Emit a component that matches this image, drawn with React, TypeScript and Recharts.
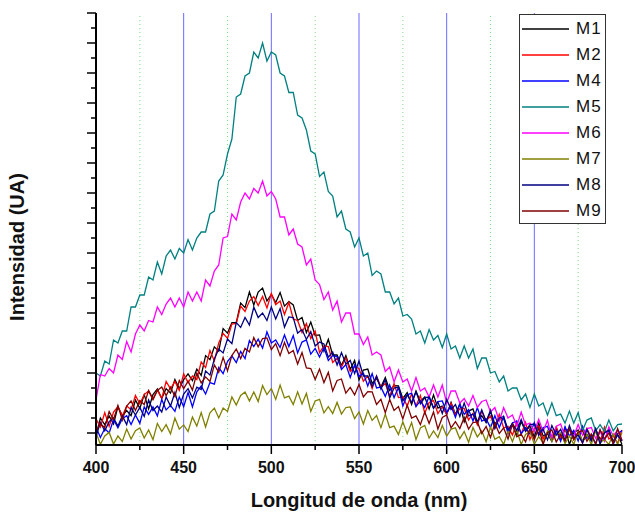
import { LineChart, Line, XAxis, YAxis, ReferenceLine } from "recharts";

// wavelength in nm, one reading every 2.5 nm
const wavelengths = [
  400, 402.5, 405, 407.5, 410, 412.5, 415, 417.5, 420, 422.5, 425, 427.5, 430, 432.5, 435, 437.5, 440, 442.5, 445, 447.5,
  450, 452.5, 455, 457.5, 460, 462.5, 465, 467.5, 470, 472.5, 475, 477.5, 480, 482.5, 485, 487.5, 490, 492.5, 495, 497.5,
  500, 502.5, 505, 507.5, 510, 512.5, 515, 517.5, 520, 522.5, 525, 527.5, 530, 532.5, 535, 537.5, 540, 542.5, 545, 547.5,
  550, 552.5, 555, 557.5, 560, 562.5, 565, 567.5, 570, 572.5, 575, 577.5, 580, 582.5, 585, 587.5, 590, 592.5, 595, 597.5,
  600, 602.5, 605, 607.5, 610, 612.5, 615, 617.5, 620, 622.5, 625, 627.5, 630, 632.5, 635, 637.5, 640, 642.5, 645, 647.5,
  650, 652.5, 655, 657.5, 660, 662.5, 665, 667.5, 670, 672.5, 675, 677.5, 680, 682.5, 685, 687.5, 690, 692.5, 695, 697.5,
  700,
];

const m1 = [
  -0.08, 0.5, 0.28, 0.57, 0.3, 0.88, 0.57, 0.75, 0.58, 1.1, 0.82, 1.28, 0.8, 1.28, 1.47, 1.15, 1.48, 1.33, 1.78, 1.48,
  1.78, 1.97, 1.75, 2.13, 1.92, 2.58, 2.45, 2.87, 2.73, 3.48, 3.33, 3.68, 3.68, 4.33, 4.18, 4.7, 4.27, 4.7, 4.83, 4.4,
  4.62, 4.35, 4.68, 4.23, 4.38, 4.27, 3.75, 3.85, 3.35, 3.7, 3.25, 3.27, 2.73, 3.12, 2.6, 2.6, 2.25, 2.58, 2.12, 2.42,
  1.77, 2.1, 2.13, 1.65, 1.82, 1.53, 1.85, 1.42, 1.58, 1.57, 1.15, 1.35, 0.95, 1.4, 1.05, 1.2, 0.8, 1.27, 0.83, 0.9,
  0.62, 1.02, 0.62, 0.97, 0.37, 0.73, 0.8, 0.37, 0.58, 0.35, 0.72, 0.3, 0.48, 0.48, 0.08, 0.3, -0.08, 0.38, 0.05, 0.23,
  -0.13, 0.33, -0.1, -0.02, -0.28, 0.15, -0.22, 0.18, -0.38, 0.01, 0.1, -0.3, -0.05, -0.26, 0.13, -0.22, 0.02, 0.07, -0.28, -0.03,
  -0.38,
];
const m2 = [
  0.47, 0.2, 0.68, 0.22, 0.7, 0.88, 0.57, 0.9, 0.78, 1.25, 0.97, 1.28, 1.4, 1.12, 1.43, 1.15, 1.72, 1.47, 1.72, 1.42,
  1.97, 1.68, 1.9, 1.78, 2.37, 2.18, 2.75, 2.4, 3.0, 3.32, 3.15, 3.63, 3.65, 4.23, 4.05, 4.4, 4.55, 4.25, 4.55, 4.17,
  4.65, 4.28, 4.4, 3.95, 4.35, 3.8, 3.75, 3.35, 3.65, 3.15, 3.4, 2.68, 2.9, 2.88, 2.35, 2.5, 2.2, 2.5, 2.05, 2.2,
  2.15, 1.73, 1.9, 1.48, 1.9, 1.53, 1.65, 1.23, 1.65, 1.18, 1.2, 0.9, 1.3, 0.9, 1.25, 0.66, 1.02, 1.08, 0.65, 0.87,
  0.63, 0.99, 0.6, 0.81, 0.82, 0.43, 0.65, 0.27, 0.73, 0.4, 0.57, 0.17, 0.62, 0.17, 0.22, -0.07, 0.35, -0.03, 0.35, -0.22,
  0.15, 0.23, -0.2, 0.03, -0.18, 0.21, -0.15, 0.09, 0.13, -0.23, 0.02, -0.34, 0.15, -0.15, 0.05, -0.3, 0.2, -0.2, -0.1, -0.35,
  0.1,
];
const m4 = [
  0.2, -0.15, 0.15, 0.0, 0.45, 0.17, 0.48, 0.58, 0.28, 0.6, 0.32, 0.87, 0.62, 0.87, 0.57, 1.12, 0.77, 0.92, 0.72, 1.2,
  0.88, 1.35, 0.87, 1.37, 1.57, 1.3, 1.68, 1.63, 2.18, 1.98, 2.38, 2.57, 2.35, 2.72, 2.48, 3.08, 2.88, 3.13, 2.83, 3.37,
  3.0, 3.1, 2.85, 3.27, 2.88, 3.25, 2.67, 3.03, 3.1, 2.63, 2.82, 2.53, 2.85, 2.42, 2.58, 2.55, 2.12, 2.28, 1.85, 2.27,
  1.88, 2.0, 1.57, 1.98, 1.5, 1.53, 1.22, 1.6, 1.18, 1.52, 0.9, 1.27, 1.33, 0.88, 1.08, 0.85, 1.22, 0.83, 1.05, 1.07,
  0.68, 0.9, 0.52, 0.97, 0.62, 0.78, 0.4, 0.85, 0.4, 0.47, 0.18, 0.58, 0.18, 0.55, -0.03, 0.33, 0.4, -0.03, 0.18, -0.03,
  0.35, -0.03, 0.18, 0.22, -0.15, 0.08, -0.28, 0.21, -0.1, 0.09, -0.27, 0.22, -0.18, -0.09, -0.35, 0.1, -0.25, 0.14, -0.38, -0.02,
  0.08,
];
const m5 = [
  2.0, 1.9, 2.4, 2.3, 3.1, 3.0, 3.4, 3.4, 4.2, 4.2, 4.6, 4.6, 5.2, 5.1, 5.7, 5.3, 5.9, 6.1, 5.8, 6.15,
  6.0, 6.45, 6.1, 6.5, 6.7, 6.7, 7.3, 7.4, 8.4, 8.6, 9.3, 9.8, 11.2, 11.3, 11.9, 12.0, 12.7, 12.5, 13.0, 12.4,
  12.7, 12.6, 12.0, 11.9, 11.35, 11.35, 10.6, 10.5, 10.1, 9.4, 9.3, 8.55, 8.7, 8.05, 7.9, 7.2, 7.4, 6.8, 6.7, 6.2,
  6.5, 5.9, 6.0, 5.25, 5.4, 5.3, 4.7, 4.7, 4.3, 4.5, 3.9, 3.95, 3.8, 3.3, 3.4, 3.0, 3.45, 3.1, 3.25, 2.85,
  3.3, 2.8, 2.9, 2.5, 2.9, 2.5, 2.8, 2.15, 2.5, 2.5, 2.0, 2.05, 1.7, 1.9, 1.4, 1.5, 1.5, 1.1, 1.3, 0.85,
  1.3, 0.9, 1.0, 0.6, 1.0, 0.58, 0.63, 0.33, 0.73, 0.33, 0.68, 0.08, 0.43, 0.5, 0.07, 0.28, 0.05, 0.43, 0.07, 0.28,
  0.3,
];
const m6 = [
  1.1, 1.95, 1.9, 2.15, 2.0, 2.6, 2.45, 3.05, 2.7, 3.3, 3.6, 3.4, 3.75, 3.7, 4.2, 3.95, 4.3, 4.5, 4.2, 4.5,
  4.2, 4.7, 4.4, 4.7, 4.4, 5.1, 4.9, 5.4, 5.6, 6.5, 6.55, 7.3, 7.1, 7.7, 8.0, 7.8, 8.15, 8.0, 8.4, 7.9,
  8.05, 7.8, 7.2, 7.2, 6.6, 6.8, 6.3, 6.2, 5.6, 5.8, 5.1, 4.95, 4.45, 4.7, 4.1, 4.4, 3.7, 4.0, 4.0, 3.3,
  3.3, 2.95, 3.2, 2.6, 2.7, 2.6, 2.05, 2.2, 1.7, 2.1, 1.7, 1.8, 1.4, 1.85, 1.4, 1.5, 1.2, 1.6, 1.2, 1.6,
  1.0, 1.4, 1.4, 1.0, 1.15, 0.9, 1.25, 0.85, 1.05, 1.1, 0.7, 0.85, 0.4, 0.85, 0.5, 0.6, 0.23, 0.7, 0.27, 0.33,
  0.05, 0.45, 0.05, 0.42, -0.17, 0.22, 0.3, -0.12, 0.12, -0.1, 0.28, -0.08, 0.15, 0.18, -0.18, 0.07, -0.28, 0.21, -0.1, 0.1,
  -0.25,
];
const m7 = [
  0.02, -0.38, -0.1, 0.02, -0.37, -0.1, -0.28, 0.13, -0.2, 0.08, 0.17, -0.17, 0.1, -0.22, 0.32, 0.05, 0.28, -0.03, 0.5, 0.13,
  0.27, 0.05, 0.53, 0.23, 0.68, 0.2, 0.67, 0.83, 0.5, 0.83, 0.72, 1.2, 0.93, 1.25, 1.37, 1.07, 1.37, 1.05, 1.58, 1.28,
  1.48, 1.12, 1.6, 1.17, 1.23, 0.95, 1.37, 0.97, 1.32, 0.72, 1.07, 1.12, 0.67, 0.88, 0.65, 1.02, 0.63, 0.85, 0.87, 0.48,
  0.7, 0.3, 0.75, 0.42, 0.58, 0.18, 0.63, 0.18, 0.23, -0.05, 0.37, -0.02, 0.35, -0.22, 0.17, 0.25, -0.17, 0.07, -0.15, 0.25,
  -0.1, 0.13, 0.17, -0.19, 0.05, -0.31, 0.18, -0.13, 0.07, -0.29, 0.2, -0.21, -0.12, -0.38, 0.07, -0.29, 0.1, -0.38, -0.05, 0.05,
  -0.37, -0.12, -0.33, 0.07, -0.28, -0.04, 0.01, -0.35, -0.1, -0.38, 0.05, -0.26, -0.06, -0.38, 0.08, -0.32, -0.22, -0.38, -0.03, -0.38,
  0.02,
];
const m8 = [
  -0.12, 0.35, 0.07, 0.38, 0.5, 0.23, 0.57, 0.28, 0.85, 0.6, 0.85, 0.55, 1.1, 0.75, 0.9, 0.7, 1.2, 0.9, 1.35, 0.85,
  1.3, 1.48, 1.17, 1.53, 1.45, 2.07, 1.93, 2.47, 2.8, 2.67, 3.13, 2.98, 3.68, 3.52, 3.85, 3.6, 4.2, 3.85, 4.0, 3.75,
  4.2, 3.8, 4.15, 3.53, 3.87, 3.85, 3.33, 3.45, 3.12, 3.38, 2.9, 3.03, 2.97, 2.53, 2.7, 2.27, 2.68, 2.3, 2.42, 1.98,
  2.4, 1.9, 1.9, 1.55, 1.9, 1.47, 1.78, 1.17, 1.5, 1.53, 1.07, 1.27, 1.02, 1.37, 0.97, 1.18, 1.2, 0.82, 1.03, 0.65,
  1.12, 0.78, 0.95, 0.55, 1.0, 0.57, 0.63, 0.35, 0.77, 0.38, 0.75, 0.15, 0.5, 0.55, 0.1, 0.32, 0.08, 0.45, 0.07, 0.28,
  0.3, -0.08, 0.13, -0.23, 0.25, -0.07, 0.12, -0.24, 0.25, -0.16, -0.07, -0.33, 0.12, -0.24, 0.15, -0.37, 0.0, 0.09, -0.32, -0.07,
  -0.27,
];
const m9 = [
  0.07, 0.3, 0.18, 0.72, 0.45, 0.92, 0.43, 0.9, 1.07, 0.75, 1.08, 0.95, 1.42, 1.12, 1.42, 1.53, 1.25, 1.53, 1.22, 1.75,
  1.48, 1.73, 1.43, 2.0, 1.67, 1.87, 1.72, 2.27, 2.02, 2.52, 2.07, 2.58, 2.8, 2.48, 2.82, 2.7, 3.18, 2.87, 3.15, 3.17,
  2.78, 2.98, 2.58, 3.02, 2.65, 2.75, 2.3, 2.68, 2.17, 2.15, 1.78, 2.13, 1.68, 2.02, 1.4, 1.75, 1.8, 1.33, 1.52, 1.27,
  1.62, 1.2, 1.38, 1.37, 0.95, 1.12, 0.68, 1.12, 0.75, 0.88, 0.47, 0.93, 0.5, 0.57, 0.28, 0.7, 0.32, 0.7, 0.13, 0.52,
  0.6, 0.17, 0.38, 0.15, 0.52, 0.13, 0.35, 0.37, -0.02, 0.22, -0.15, 0.32, -0.02, 0.17, -0.2, 0.28, -0.13, -0.04, -0.3, 0.14,
  -0.22, 0.17, -0.38, 0.01, 0.1, -0.3, -0.05, -0.26, 0.13, -0.22, 0.03, 0.08, -0.28, -0.03, -0.38, 0.11, -0.2, 0.0, -0.35, 0.15,
  -0.25,
];

const seriesNames = ["M1", "M2", "M4", "M5", "M6", "M7", "M8", "M9"];
const seriesValues = [m1, m2, m4, m5, m6, m7, m8, m9];
const seriesColors = ["#000000", "#ff0000", "#0000ff", "#008080", "#ff00ff", "#808000", "#000080", "#800000"];

const xTicks = [400, 425, 450, 475, 500, 525, 550, 575, 600, 625, 650, 675, 700];
const yTicks = [
  0, 0.5, 1, 1.5, 2, 2.5, 3, 3.5, 4, 4.5, 5, 5.5, 6, 6.5, 7, 7.5, 8, 8.5, 9, 9.5, 10, 10.5, 11, 11.5, 12, 12.5, 13,
  13.5, 14,
];
const blueGrid = [450, 500, 550, 600, 650];
const greenGrid = [425, 475, 525, 575, 625, 675];

const data = wavelengths.map((nm, i) => {
  const row: Record<string, number> = { nm };
  seriesNames.forEach((name, k) => {
    row[name] = seriesValues[k][i];
  });
  return row;
});

const font = "'Liberation Sans', Arial, sans-serif";

function XTick({ x, y, payload }: any) {
  const major = payload.value % 50 === 0;
  return (
    <g>
      <line x1={x} x2={x} y1={y} y2={y + (major ? 9 : 5)} stroke="#000" strokeWidth={1.5} />
      {major && (
        <text x={x} y={y + 28} textAnchor="middle" fontSize={16} fontWeight="bold" fill="#111" fontFamily={font}>
          {payload.value}
        </text>
      )}
    </g>
  );
}

function YTick({ x, y, payload }: any) {
  const major = Number.isInteger(payload.value);
  return <line x1={x - (major ? 9 : 5)} x2={x} y1={y} y2={y} stroke="#000" strokeWidth={1.5} />;
}

function XTitle({ viewBox }: any) {
  return (
    <text x={viewBox.x + viewBox.width / 2} y={507} textAnchor="middle" fontSize={20} fontWeight="bold" fill="#111" fontFamily={font}>
      Longitud de onda (nm)
    </text>
  );
}

function YTitle() {
  return (
    <text x={0} y={0} transform="translate(24, 247) rotate(-90)" textAnchor="middle" fontSize={20} fontWeight="bold" fill="#111" fontFamily={font}>
      Intensidad (UA)
    </text>
  );
}

function LegendBox() {
  return (
    <div
      style={{
        position: "absolute",
        left: 519,
        top: 14,
        width: 85,
        height: 208,
        border: "1px solid #333",
        background: "#fff",
        fontFamily: font,
      }}
    >
      {seriesNames.map((name, i) => (
        <div key={name} style={{ position: "absolute", left: 2, top: 3 + i * 26, height: 22, display: "flex", alignItems: "center" }}>
          <div style={{ width: 47, height: 2, background: seriesColors[i], opacity: 0.75 }} />
          <span style={{ marginLeft: 7, fontSize: 17, color: "#111", letterSpacing: 1 }}>{name}</span>
        </div>
      ))}
    </div>
  );
}

export default function App() {
  return (
    <div style={{ position: "absolute", left: 0, top: 0, width: 635, height: 512, background: "#fff" }}>
      <LineChart width={635} height={512} data={data} margin={{ top: 13, right: 13, bottom: 0, left: 0 }}>
        {greenGrid.map((v) => (
          <ReferenceLine key={`g${v}`} x={v} stroke="#7ee07e" strokeDasharray="1 3" />
        ))}
        {blueGrid.map((v) => (
          <ReferenceLine key={`b${v}`} x={v} stroke="#6a6aff" strokeWidth={1} />
        ))}
        <XAxis
          dataKey="nm"
          type="number"
          domain={[400, 700]}
          ticks={xTicks}
          interval={0}
          height={67}
          tickSize={0}
          tickMargin={0}
          tickLine={false}
          tick={<XTick />}
          axisLine={{ stroke: "#000", strokeWidth: 2 }}
          label={<XTitle />}
        />
        <YAxis
          type="number"
          domain={[-0.4, 14]}
          ticks={yTicks}
          interval={0}
          width={96}
          tickSize={0}
          tickMargin={0}
          tickLine={false}
          tick={<YTick />}
          axisLine={{ stroke: "#000", strokeWidth: 2 }}
          label={<YTitle />}
          allowDataOverflow
        />
        {seriesNames.map((name, i) => (
          <Line
            key={name}
            type="linear"
            dataKey={name}
            stroke={seriesColors[i]}
            strokeWidth={1.3}
            dot={false}
            isAnimationActive={false}
          />
        ))}
      </LineChart>
      <LegendBox />
    </div>
  );
}
